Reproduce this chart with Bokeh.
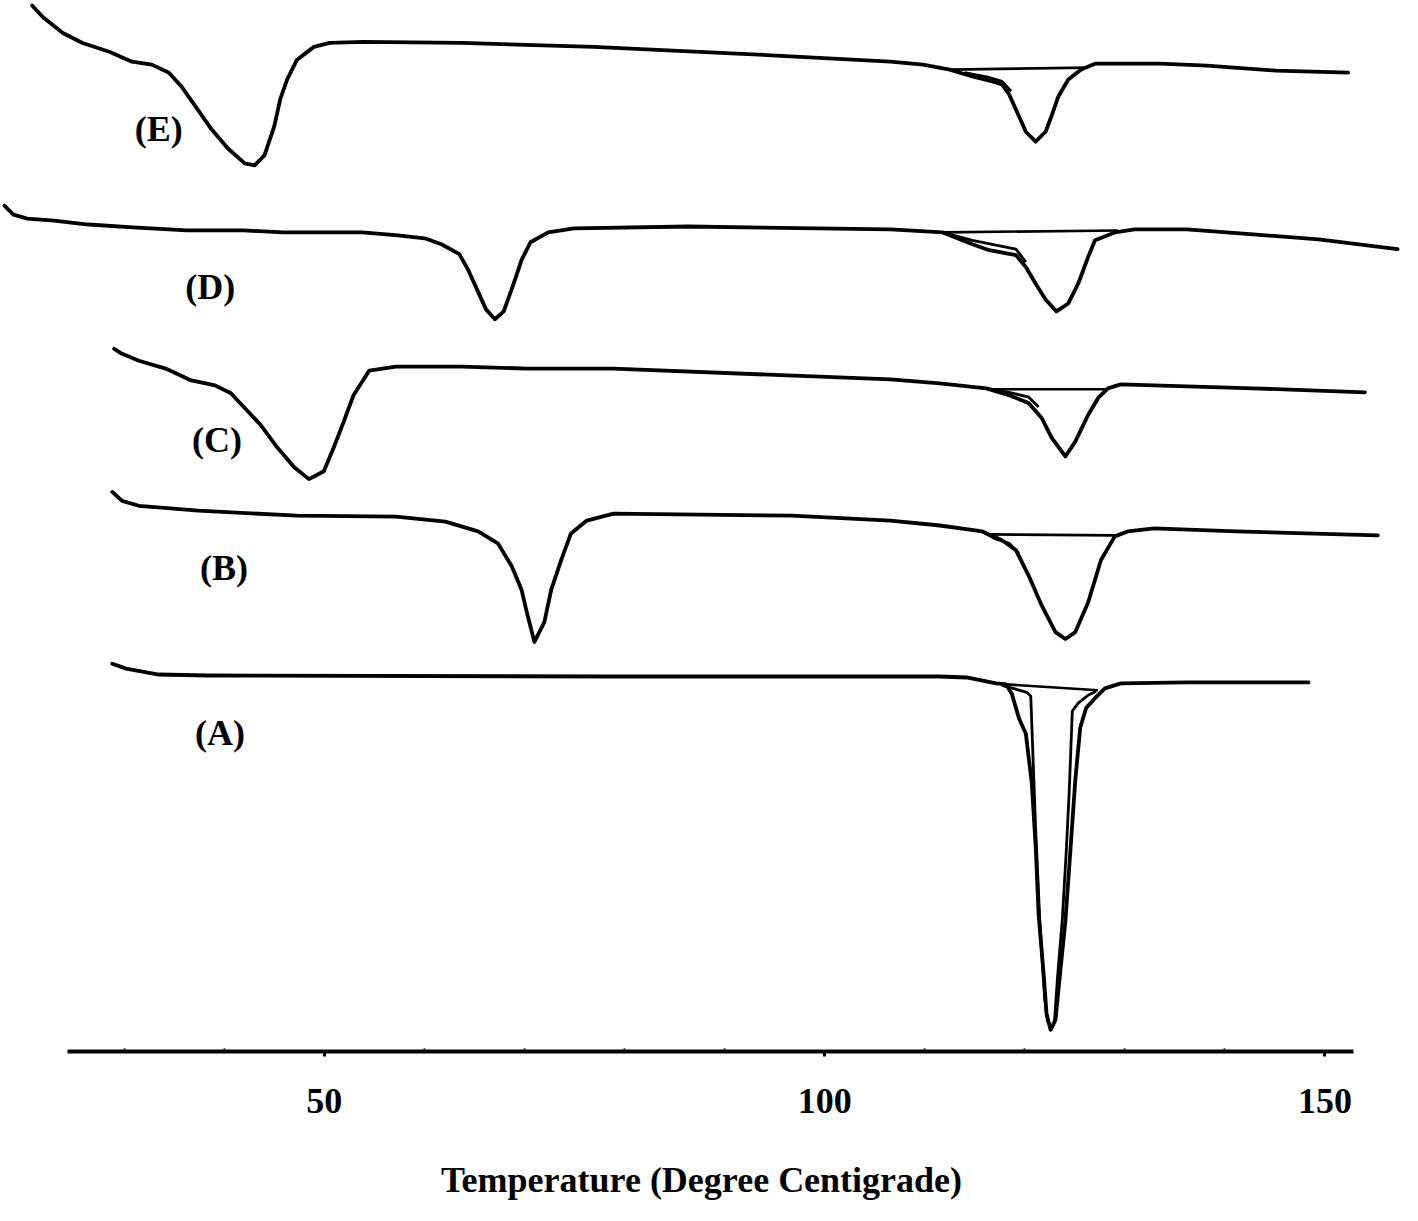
from bokeh.plotting import figure
from bokeh.models import Range1d, FixedTicker, Label
from bokeh.embed import file_html
from bokeh.resources import INLINE

# Temperature (degree C) and heat flow (arbitrary units, offset per curve)
e_temp = [20.80, 21.89, 23.87, 25.84, 28.51, 30.78, 32.76, 34.44, 35.72, 37.11, 38.69, 40.37, 42.05, 43.03,
          44.02, 45.01, 45.60, 46.29, 47.28, 48.96, 50.54, 53.90, 63.78, 76.93, 91.75, 106.57, 109.83, 112.50,
          114.77, 116.75, 117.73, 118.43, 119.41, 120.11, 121.09, 122.08, 122.68, 123.37, 124.35, 125.64,
          127.02, 133.54, 138.19, 145.10, 152.32]
e_flow = [106.0, 104.8, 103.2, 102.2, 101.3, 100.3, 100.0, 99.2, 97.8, 95.8, 93.5, 91.5, 90.0, 89.8,
          90.8, 93.8, 96.5, 98.5, 100.5, 101.8, 102.2, 102.3, 102.2, 101.8, 101.1, 100.3, 100.0, 99.5,
          98.8, 98.3, 98.0, 97.0, 94.8, 93.2, 92.2, 93.2, 94.8, 96.8, 98.5, 99.5,
          100.1, 100.1, 99.9, 99.4, 99.2]
e_base_temp = [112.50, 126.33]
e_base_flow = [99.5, 99.7]
e_alt_temp = [113.98, 116.45, 117.73, 118.63]
e_alt_flow = [99.2, 98.7, 98.3, 97.3]

d_temp = [18.04, 18.92, 20.31, 22.98, 26.43, 30.88, 36.22, 41.95, 45.90, 53.80, 57.36, 60.03, 61.71, 63.49,
          64.38, 65.27, 66.16, 67.05, 67.93, 68.82, 69.71, 70.60, 72.38, 74.95, 86.41, 106.57, 111.81,
          114.77, 116.45, 119.12, 120.11, 121.09, 122.08, 123.17, 124.35, 125.34, 126.33, 127.02, 129.00,
          130.97, 136.21, 142.83, 149.35, 157.26]
d_flow = [85.7, 84.8, 84.4, 84.2, 83.8, 83.5, 83.2, 83.2, 83.0, 83.0, 82.7, 82.4, 81.8, 80.8,
          79.2, 77.2, 75.2, 74.2, 75.0, 77.5, 80.2, 82.0, 83.0, 83.4, 83.6, 83.3, 83.0,
          81.8, 81.2, 80.7, 79.5, 77.8, 76.2, 75.0, 75.8, 77.8, 80.5, 82.2, 83.0,
          83.3, 83.3, 82.8, 82.3, 81.3]
d_base_temp = [111.81, 129.30]
d_base_flow = [83.0, 83.2]
d_alt_temp = [111.81, 114.77, 119.12, 120.11]
d_alt_flow = [83.0, 82.2, 81.3, 80.0]

c_temp = [29.00, 29.79, 31.47, 34.14, 36.71, 39.08, 40.66, 42.05, 43.63, 45.31, 46.99, 48.47, 49.95, 50.94,
          51.93, 52.92, 54.50, 57.16, 63.78, 70.31, 78.90, 106.57, 111.51, 116.15, 118.43, 120.40, 121.69,
          122.68, 124.06, 125.05, 126.33, 127.32, 128.31, 129.59, 136.21, 142.83, 154.00]
c_flow = [71.2, 70.7, 70.0, 69.2, 68.0, 67.5, 66.7, 65.2, 63.5, 61.2, 59.2, 58.0, 58.8, 61.2,
          63.8, 66.5, 69.0, 69.4, 69.4, 69.2, 69.2, 68.1, 67.7, 67.2, 66.5, 65.7, 64.2,
          62.2, 60.3, 61.8, 64.5, 66.2, 67.2, 67.6, 67.4, 67.2, 66.8]
c_base_temp = [116.45, 128.31]
c_base_flow = [67.1, 67.1]
c_alt_temp = [116.15, 118.43, 120.40, 121.39]
c_alt_flow = [67.2, 66.8, 66.3, 65.3]

b_temp = [28.81, 29.79, 31.47, 37.40, 47.28, 57.16, 62.10, 65.37, 67.34, 68.72, 69.71, 70.31, 71.00, 71.99,
          72.68, 73.67, 74.65, 76.23, 78.90, 96.69, 106.57, 111.51, 115.76, 117.73, 119.12, 120.40, 121.69,
          123.07, 124.06, 125.05, 126.33, 127.62, 129.00, 130.28, 132.95, 141.15, 155.28]
b_flow = [56.7, 55.8, 55.3, 54.8, 54.3, 54.2, 53.7, 52.7, 51.5, 49.2, 46.8, 44.2, 41.5, 43.5,
          46.8, 49.8, 52.5, 53.8, 54.5, 54.3, 53.8, 53.3, 52.7, 51.8, 50.8, 48.2, 45.2,
          42.5, 41.8, 42.5, 45.5, 49.8, 52.2, 52.7, 53.0, 52.7, 52.3]
b_base_temp = [116.45, 129.00]
b_base_flow = [52.4, 52.3]
b_alt_temp = [115.76, 116.95, 118.43, 119.41]
b_alt_flow = [52.7, 52.0, 51.5, 50.5]

a_temp = [28.81, 30.19, 33.45, 38.39, 78.90, 111.51, 114.18, 117.14, 118.13, 118.72, 119.41, 120.11, 120.70,
          121.09, 121.39, 121.89, 122.18, 122.58, 123.07, 123.56, 124.06, 124.55, 125.05, 125.54, 126.13,
          127.02, 128.01, 129.59, 136.21, 148.36]
a_flow = [39.3, 38.8, 38.2, 38.1, 38.0, 38.0, 37.9, 37.3, 37.2, 36.2, 33.8, 32.2, 27.2,
          20.8, 13.8, 7.8, 3.8, 2.2, 3.2, 8.2, 13.2, 20.2, 27.5, 32.8, 34.8,
          35.8, 36.8, 37.3, 37.4, 37.4]
a_base_temp = [118.13, 127.32]
a_base_flow = [37.2, 36.6]
a_alt_l_temp = [117.73, 120.21, 120.60, 120.80, 121.09, 121.49, 121.98, 122.28]
a_alt_l_flow = [37.1, 36.4, 36.0, 30.5, 22.5, 13.5, 5.5, 3.0]
a_alt_r_temp = [122.97, 123.27, 123.76, 124.16, 124.45, 124.75, 125.34, 126.33, 127.12]
a_alt_r_flow = [3.0, 7.5, 13.5, 20.5, 26.5, 34.5, 35.3, 36.1, 36.5]

curve_labels = ["(E)", "(D)", "(C)", "(B)", "(A)"]
label_temp = [33.45, 38.59, 39.28, 39.97, 39.58]
label_flow = [93.5, 77.5, 62.0, 49.0, 32.3]

major_ticks = [50, 100, 150]
minor_ticks = [30, 40, 60, 70, 80, 90, 110, 120, 130, 140]
x_title = "Temperature (Degree Centigrade)"

FONT = "Liberation Serif"

p = figure(frame_width=1402, frame_height=1051, output_backend="svg", toolbar_location=None,
           x_range=Range1d(17.64, 157.75), y_range=Range1d(0, 106.5),
           min_border_left=0, min_border_right=0, min_border_top=0, min_border_bottom=0,
           y_axis_location=None)
p.grid.visible = False
p.outline_line_color = None
p.background_fill_color = "white"
p.border_fill_color = "white"

lw = 3.8
for t, f in [(e_temp, e_flow), (d_temp, d_flow), (c_temp, c_flow), (b_temp, b_flow), (a_temp, a_flow)]:
    p.line(t, f, line_color="black", line_width=lw, line_join="round", line_cap="round")
for t, f in [(e_base_temp, e_base_flow), (d_base_temp, d_base_flow), (c_base_temp, c_base_flow),
             (b_base_temp, b_base_flow), (a_base_temp, a_base_flow)]:
    p.line(t, f, line_color="black", line_width=2.6)
for t, f in [(e_alt_temp, e_alt_flow), (d_alt_temp, d_alt_flow), (c_alt_temp, c_alt_flow),
             (b_alt_temp, b_alt_flow), (a_alt_l_temp, a_alt_l_flow), (a_alt_r_temp, a_alt_r_flow)]:
    p.line(t, f, line_color="black", line_width=2.8, line_join="round")

for txt, tx, fy in zip(curve_labels, label_temp, label_flow):
    p.add_layout(Label(x=tx, y=fy, text=txt, text_font=FONT, text_font_size="36px",
                       text_font_style="bold", text_align="center", text_baseline="middle",
                       text_color="black"))

ax = p.xaxis[0]
ax.ticker = FixedTicker(ticks=major_ticks, minor_ticks=minor_ticks)
ax.bounds = (24.36, 152.81)
ax.axis_line_width = 4
ax.axis_line_color = "black"
ax.major_tick_in = 0
ax.major_tick_out = 5
ax.major_tick_line_width = 3
ax.minor_tick_in = 3
ax.minor_tick_out = 0
ax.minor_tick_line_width = 2
ax.major_label_text_font = FONT
ax.major_label_text_font_size = "36px"
ax.major_label_text_font_style = "bold"
ax.major_label_text_color = "black"
ax.major_label_standoff = 32
ax.axis_label = x_title
ax.axis_label_text_font = FONT
ax.axis_label_text_font_size = "36px"
ax.axis_label_text_font_style = "bold"
ax.axis_label_text_color = "black"
ax.axis_label_standoff = 44

open("out.html", "w").write(file_html(p, INLINE))
